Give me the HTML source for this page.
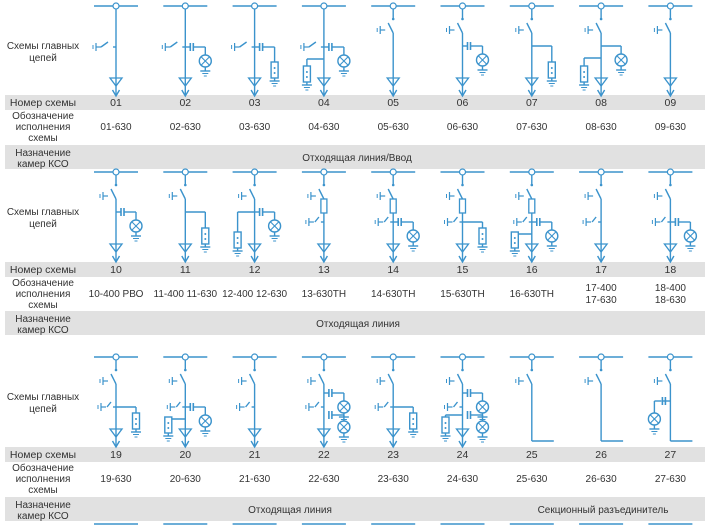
<!DOCTYPE html>
<html><head><meta charset="utf-8"><style>
body{margin:0;background:#fff;width:712px;height:525px;overflow:hidden;font-family:"Liberation Sans","DejaVu Sans",sans-serif}
svg{display:block}
</style></head><body>
<svg id="s" width="712" height="525" viewBox="0 0 712 525" xmlns="http://www.w3.org/2000/svg"></svg>
<script>
const numbers=[["01","02","03","04","05","06","07","08","09"],["10","11","12","13","14","15","16","17","18"],["19","20","21","22","23","24","25","26","27"]];
const designations=[["01-630","02-630","03-630","04-630","05-630","06-630","07-630","08-630","09-630"],
["10-400 РВО","11-400 11-630","12-400 12-630","13-630ТН","14-630ТН","15-630ТН","16-630ТН","17-400|17-630","18-400|18-630"],
["19-630","20-630","21-630","22-630","23-630","24-630","25-630","26-630","27-630"]];
const cfg=[
[{c:1},{c:1,R:'lamp',rc:1},{c:1,R:'vt',rc:1},{c:1,R:'lamp',rc:1,L:1},{},{R:'lamp',rc:1},{R:'vt'},{R:'lamp',L:1},{}],
[{R:'lamp',rc:1},{R:'vt'},{R:'lamp',rc:1,L:1,lc:1},{f:1,s2:1},{f:1,s2:1,R:'lamp',rc:1},{f:1,s2:1,R:'vt'},{f:1,s2:1,R:'lamp',rc:1,L:1},{s2:1},{s2:1,R:'lamp',rc:1}],
[{s2:1,R:'vt'},{s2:1,R:'lamp',rc:1,L:1},{s2:1},{s2:1,R:'lamp',rc:1,R2:1},{s2:1,R:'vt'},{s2:1,R:'lamp',rc:1,R2:1,L:1},{sec:1},{sec:1},{sec:1,SL:1}]];
const purposes=[[["Отходящая линия/Ввод",357]],[["Отходящая линия",358]],[["Отходящая линия",290],["Секционный разъединитель",603]]];
const busY=[6,172,357], numY=[95,262,447], purY=[145,311,497];
const X0=116, DX=69.3, BL="#3b93cc";
const s=document.getElementById('s');
const NS="http://www.w3.org/2000/svg";
function el(t,a,p){const e=document.createElementNS(NS,t);for(const k in a)e.setAttribute(k,a[k]);(p||s).appendChild(e);return e;}
function L(g,x1,y1,x2,y2,w){el('line',{x1,y1,x2,y2,stroke:BL,'stroke-width':w||1.4},g);}
function txt(x,y,t,sz,anchor,name){const e=el('text',{x,y,'font-size':sz||10,fill:'#333','text-anchor':anchor||'middle'});e.textContent=t;


return e;}
function earth(g,x,y){L(g,x-9,y-2,x-9,y+2,1);L(g,x-6,y-4,x-6,y+4,1.2);L(g,x-6,y,x-1,y,1.2);}
function gnd(g,x,y){L(g,x-5,y,x+5,y);L(g,x-3,y+2.5,x+3,y+2.5,1);L(g,x-1.5,y+5,x+1.5,y+5,1);}
function lamp(g,x,y){el('circle',{cx:x,cy:y,r:6,fill:'#fff',stroke:BL,'stroke-width':1.4},g);L(g,x-4,y-4,x+4,y+4,1.1);L(g,x+4,y-4,x-4,y+4,1.1);L(g,x,y+6,x,y+10);gnd(g,x,y+10);}
function vt(g,x,y){el('rect',{x:x-3.5,y:y-8,width:7,height:16,fill:'#fff',stroke:BL,'stroke-width':1.4},g);el('circle',{cx:x,cy:y-2,r:1,fill:BL},g);el('circle',{cx:x,cy:y+3,r:1,fill:BL},g);L(g,x,y+8,x,y+11);gnd(g,x,y+11);}
function cap(g,x,y){L(g,x,y-4,x,y+4,1.6);L(g,x+3,y-4,x+3,y+4,1.6);}
for(let b=0;b<3;b++){
  const y0=busY[b];
  const nb=el('rect',{x:5,y:numY[b],width:700,height:15,fill:'#e1e1e1'});
  
  
  const pb=el('rect',{x:5,y:purY[b],width:700,height:24,fill:'#e1e1e1'});
  
  
  txt(43,y0+43,"Схемы главных",10,'middle','main-circuits-label');
  txt(43,y0+55,"цепей",10,'middle','main-circuits-label');
  txt(43,numY[b]+11,"Номер схемы",10.5,'middle','scheme-number-label');
  txt(43,numY[b]+24,"Обозначение",10,'middle','designation-label');
  txt(43,numY[b]+35,"исполнения",10,'middle','designation-label');
  txt(43,numY[b]+46,"схемы",10,'middle','designation-label');
  txt(43,purY[b]+11,"Назначение",10,'middle','purpose-label');
  txt(43,purY[b]+22,"камер КСО",10,'middle','purpose-label');
  for(const p of purposes[b]) txt(p[1],purY[b]+16,p[0],10,'middle','purpose-text');
  for(let i=0;i<9;i++){
    const cx=X0+i*DX, c=cfg[b][i];
    txt(cx,numY[b]+11,numbers[b][i],10.5,'middle','scheme-number');
    const d=designations[b][i].split('|');
    if(d.length==1) txt(cx,numY[b]+35,d[0],10,'middle','scheme-designation');
    else {txt(cx,numY[b]+29,d[0],10,'middle','scheme-designation');txt(cx,numY[b]+41,d[1],10,'middle','scheme-designation');}
    const g=el('g',{});
    
    
    const y=y0;
    L(g,cx-22,y,cx+22,y,1.6);
    el('circle',{cx,cy:y,r:3,fill:'#fff',stroke:BL,'stroke-width':1.2},g);
    if(c.c){
      L(g,cx,y+3,cx,y+78);earth(g,cx-14,y+41);L(g,cx-15,y+41,cx-8,y+36);L(g,cx-3,y+41,cx,y+41);
    } else {
      L(g,cx,y+3,cx,y+13);el('circle',{cx,cy:y+13,r:1.3,fill:BL},g);
      L(g,cx-5,y+17,cx,y+27);L(g,cx,y+27,cx,c.sec?y+84:y+78);earth(g,cx-7,y+24);
    }
    if(c.f){el('rect',{x:cx-3,y:y+27,width:6,height:14,fill:'#fff',stroke:BL,'stroke-width':1.3},g);}
    let yb=c.c?y+41:y+40;
    if(c.s2){const ys=y+50;earth(g,cx-9,ys);L(g,cx-9,ys,cx-5,ys-5);L(g,cx-3,ys,cx,ys);yb=ys;}
    if(c.sec){L(g,cx,y+84,cx+22,y+84,1.5);
      if(c.SL){L(g,cx,y+44,cx-8,y+44);cap(g,cx-8,y+44);L(g,cx-9,y+44,cx-16,y+44);L(g,cx-16,y+44,cx-16,y+56);lamp(g,cx-16,y+62);}
    } else {
      el('path',{d:`M${cx-6},${y+72} L${cx+6},${y+72} L${cx},${y+80} Z`,fill:'none',stroke:BL,'stroke-width':1.3},g);
      L(g,cx,y+78,cx,y+89);el('path',{d:`M${cx-3.5},${y+84} L${cx},${y+90} L${cx+3.5},${y+84}`,fill:'none',stroke:BL,'stroke-width':1.4},g);
    }
    if(c.R){
      const ry=c.R2?y+36:yb;
      if(c.rc){cap(g,cx+5,ry);L(g,cx+8,ry,cx+20,ry);L(g,cx,ry,cx+5,ry);}else L(g,cx,ry,cx+20,ry);
      if(c.R=='lamp'){L(g,cx+20,ry,cx+20,ry+8);lamp(g,cx+20,ry+14);}
      else {L(g,cx+20,ry,cx+20,y+56);vt(g,cx+20,y+64);}
      if(c.R2){const r2=y+58;cap(g,cx+5,r2);L(g,cx+8,r2,cx+20,r2);L(g,cx+20,r2,cx+20,r2+6);lamp(g,cx+20,r2+12);}
    }
    if(c.L){const ly=c.R2?y+58:(c.lc?yb:yb+12);L(g,cx,ly,cx-17,ly);L(g,cx-17,ly,cx-17,y+60);vt(g,cx-17,y+68);}
  }
}
for(let i=0;i<9;i++){const cx=X0+i*DX;const r=el('line',{x1:cx-22,y1:524,x2:cx+22,y2:524,stroke:BL,'stroke-width':1.5});

}
</script>
</body></html>
